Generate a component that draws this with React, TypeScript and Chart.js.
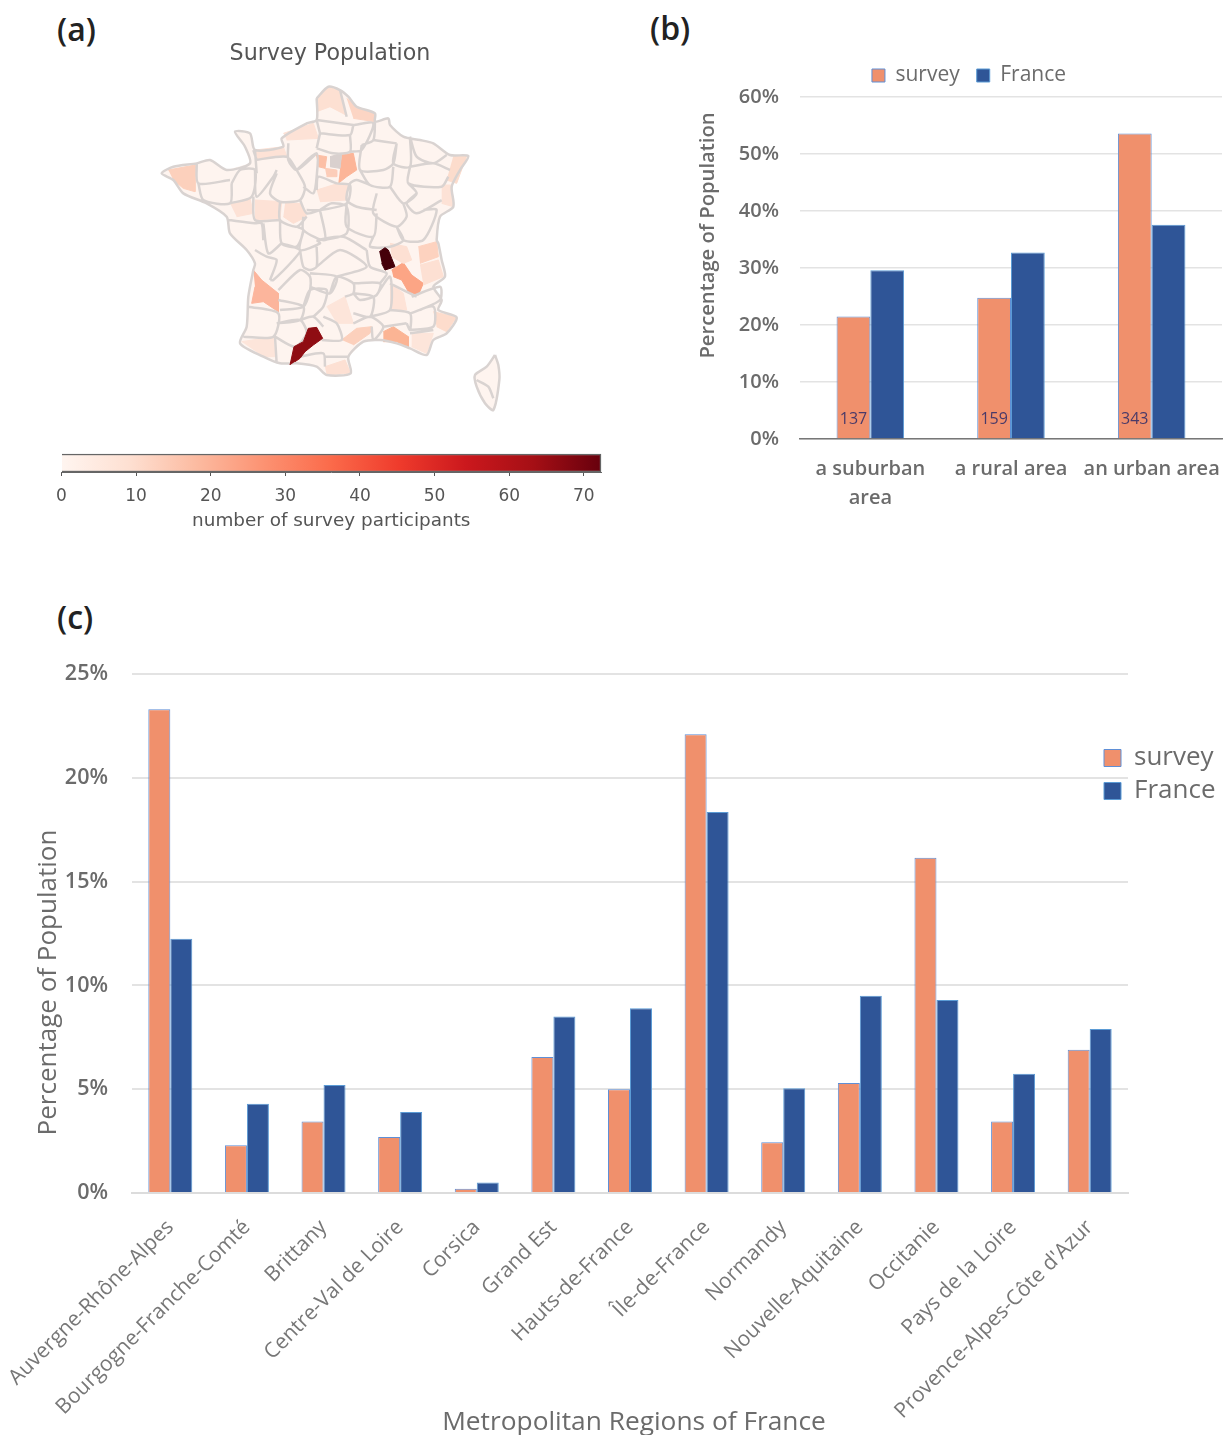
import React, { useEffect, useRef } from "react";
import { Chart, registerables } from "chart.js";

Chart.register(...registerables);

// ---------- panel (b) data ----------
const areaCategories: (string | string[])[] = [["a suburban", "area"], "a rural area", "an urban area"];
const areaSurvey = [21.5, 24.8, 53.6];
const areaFrance = [29.6, 32.7, 37.6];
const areaCounts = ["137", "159", "343"];
const areaTicks = [0, 10, 20, 30, 40, 50, 60];

// ---------- panel (c) data ----------
const regionCategories = [
  "Auvergne-Rhône-Alpes", "Bourgogne-Franche-Comté", "Brittany", "Centre-Val de Loire", "Corsica", "Grand Est",
  "Hauts-de-France", "Île-de-France", "Normandy", "Nouvelle-Aquitaine", "Occitanie", "Pays de la Loire",
  "Provence-Alpes-Côte d'Azur",
];
const regionSurvey = [23.3, 2.3, 3.45, 2.7, 0.2, 6.55, 5.0, 22.1, 2.45, 5.3, 16.15, 3.45, 6.9];
const regionFrance = [12.25, 4.3, 5.2, 3.9, 0.5, 8.5, 8.9, 18.35, 5.05, 9.5, 9.3, 5.75, 7.9];

// ---------- panel (a) colour bar ----------
const colorbarTicks = [0, 10, 20, 30, 40, 50, 60, 70];
const colorbarMax = 72.3;
const redsStops = ["#fff5f0", "#fee0d2", "#fcbba1", "#fc9272", "#fb6a4a", "#ef3b2c", "#cb181d", "#a50f15", "#67000d"];

// ---------- panel (a) map, hand-traced shapes in map units ----------
type Poly = number[][];
const franceOutline: Poly = [[530,85],[565,50],[600,60],[625,80],[650,110],[705,130],[705,155],[745,145],[750,165],[790,200],[840,210],[880,220],[930,255],[985,258],[960,300],[935,350],[940,410],[900,440],[890,510],[895,520],[905,570],[915,620],[880,650],[905,690],[895,720],[950,742],[920,790],[880,810],[860,855],[810,835],[770,820],[720,810],[670,815],[625,860],[632,910],[560,915],[530,890],[470,880],[420,880],[370,860],[300,820],[320,770],[325,680],[340,600],[345,580],[320,540],[270,490],[260,440],[200,400],[130,370],[100,330],[65,310],[100,290],[170,280],[210,270],[260,300],[330,280],[315,230],[285,185],[330,190],[345,240],[430,230],[425,205],[500,160],[530,150],[530,85]];
const corsicaOutline: Poly = [[1065,855],[1075,885],[1078,930],[1060,1020],[1035,1000],[1010,950],[1005,915],[1040,890],[1065,855]];

const departmentBorders: Poly[] = [
  [[600,60],[620,140]],[[530,150],[640,165]],[[540,190],[630,195],[640,165]],[[530,235],[580,250],[630,245],[630,195]],
  [[640,165],[700,160],[665,240],[630,245]],[[540,190],[530,150]],[[530,235],[540,190]],[[705,155],[700,210],[665,225]],
  [[700,210],[770,220]],[[665,225],[660,300],[730,300],[760,280],[770,220]],[[770,220],[760,280],[810,290],[810,200]],
  [[810,290],[880,280],[930,300]],[[810,200],[830,260],[880,280],[920,255]],[[810,290],[805,340],[905,350],[925,320]],
  [[660,300],[690,345],[750,350],[760,290]],[[750,350],[790,400],[830,370],[805,340]],[[710,370],[700,430],[770,470],[800,440],[790,400]],
  [[690,345],[650,330],[630,340],[620,390],[650,410],[710,420]],[[830,370],[800,400],[830,430],[905,390]],
  [[770,470],[790,510],[850,510],[890,420],[850,420]],[[620,400],[620,470],[700,500],[710,430]],
  [[700,500],[690,530],[750,530],[790,510],[770,470]],[[530,510],[610,500],[680,540]],
  [[540,420],[575,400],[620,410],[620,490],[555,510]],[[530,360],[535,320],[590,340],[630,345],[620,400],[540,420],[500,420]],
  [[470,300],[530,250],[530,320],[520,370],[490,350]],[[445,220],[445,270],[470,300],[530,250]],[[345,270],[440,260],[470,300]],
  [[340,240],[350,270]],[[345,240],[350,310]],[[170,280],[175,340],[270,330]],[[175,340],[190,390],[270,400],[275,340]],
  [[275,340],[300,300],[345,300],[335,380],[270,400]],[[345,300],[350,380],[400,320],[410,300]],
  [[410,310],[390,370],[420,395],[480,390],[495,350],[470,300]],[[480,390],[500,430],[540,420]],
  [[420,395],[420,450],[470,470],[500,440]],[[420,450],[425,520],[470,530],[490,480],[470,470]],
  [[490,440],[490,480],[555,510],[540,420]],[[340,380],[345,450],[420,450]],[[265,450],[345,460],[365,460],[370,510]],
  [[370,460],[385,550],[425,520]],[[345,540],[380,560],[410,570],[390,630]],[[425,520],[480,540],[460,570],[400,630],[390,630]],
  [[490,480],[480,540],[540,520],[530,510]],[[480,540],[490,590],[510,600],[530,590],[530,530]],
  [[510,610],[590,620],[570,670],[510,650]],[[415,660],[480,600],[510,620],[510,660],[490,710],[420,720]],
  [[530,590],[600,540],[680,590],[590,620]],[[570,670],[590,620],[640,640],[640,670],[615,680]],
  [[490,710],[510,660],[560,660],[550,710],[520,740]],[[680,540],[690,590],[740,610],[720,640]],
  [[640,640],[720,640],[710,675],[660,690],[640,670]],[[640,670],[700,680],[690,740],[640,730]],
  [[710,675],[750,620],[750,720],[690,740]],[[640,760],[690,740],[730,770],[700,810],[695,770]],[[730,770],[800,760]],
  [[325,710],[415,730],[400,800],[310,800]],[[415,690],[490,710],[480,750],[410,760]],[[410,760],[480,750],[500,790],[465,830],[405,800]],
  [[405,800],[410,880]],[[480,750],[520,740],[550,770]],[[550,740],[590,760],[605,810],[545,810]],[[555,860],[625,860]],
  [[480,860],[550,850],[555,890]],[[815,680],[900,650],[900,690],[840,720]],[[810,730],[880,710],[880,770],[810,780]],
  [[750,720],[810,730],[810,780],[800,760]],[[750,640],[830,680]],[[810,790],[880,780]],[[1010,930],[1045,950],[1060,985]],
];

const departmentPatches: { color: string; shape: Poly }[] = [
  { color: "#fde0d2", shape: [[530,85],[565,50],[600,60],[618,135],[570,110],[530,125]] },
  { color: "#fcd5c4", shape: [[620,85],[650,110],[705,130],[705,155],[640,145]] },
  { color: "#fde2d6", shape: [[430,190],[520,160],[535,205],[440,210]] },
  { color: "#fde2d6", shape: [[345,240],[430,230],[440,258],[350,270]] },
  { color: "#fcbfa5", shape: [[528,255],[560,260],[555,295],[535,290]] },
  { color: "#d9d0ce", shape: [[570,260],[605,250],[600,295],[570,290]] },
  { color: "#fccdb9", shape: [[555,295],[590,300],[590,320],[560,320]] },
  { color: "#fcb598", shape: [[605,255],[640,250],[650,300],[620,320],[595,340]] },
  { color: "#fde2d6", shape: [[530,360],[595,340],[625,345],[620,390],[540,395]] },
  { color: "#fcd0bc", shape: [[85,300],[165,285],[165,365],[130,355],[100,330]] },
  { color: "#fde2d6", shape: [[270,400],[330,385],[340,430],[290,440]] },
  { color: "#fde2d6", shape: [[345,390],[425,395],[420,445],[345,450]] },
  { color: "#fde0d3", shape: [[435,400],[480,400],[500,440],[460,460],[430,440]] },
  { color: "#fcdccc", shape: [[940,258],[980,258],[950,340],[920,330]] },
  { color: "#fde2d6", shape: [[905,345],[935,345],[940,410],[905,400]] },
  { color: "#fde0d3", shape: [[750,520],[800,530],[815,570],[790,580],[755,560]] },
  { color: "#fdd2bf", shape: [[835,530],[890,515],[895,560],[840,580]] },
  { color: "#fde0d3", shape: [[840,585],[895,570],[910,620],[850,645]] },
  { color: "#fca585", shape: [[755,600],[790,578],[815,615],[850,640],[835,675],[805,665],[785,630],[760,620]] },
  { color: "#fee3d7", shape: [[750,640],[790,670],[800,720],[750,720]] },
  { color: "#fcb59c", shape: [[340,600],[365,630],[415,670],[415,725],[370,695],[335,700],[345,650]] },
  { color: "#fde5da", shape: [[560,710],[615,680],[640,760],[590,760]] },
  { color: "#fddccc", shape: [[880,725],[950,742],[920,785],[890,770]] },
  { color: "#fcd0bc", shape: [[605,810],[650,775],[695,770],[690,790],[640,825]] },
  { color: "#fbb494", shape: [[730,785],[760,770],[805,800],[805,830],[770,815],[730,815]] },
  { color: "#fde5da", shape: [[815,790],[880,790],[860,850],[815,830]] },
  { color: "#fde5da", shape: [[305,815],[400,800],[405,860],[370,860]] },
  { color: "#fde0d3", shape: [[555,890],[615,870],[632,910],[560,915]] },
  { color: "#8f0d13", shape: [[450,885],[462,830],[490,815],[505,775],[530,772],[548,805],[520,825],[495,845],[480,865],[465,875]] },
  { color: "#45000a", shape: [[718,545],[735,533],[745,540],[755,565],[765,590],[735,600],[725,580]] },
];

const PANEL_FONT = "'Open Sans', sans-serif";
const MAP_FONT = "'DejaVu Sans', sans-serif";
const SURVEY_FILL = "#f0906c";
const SURVEY_EDGE = "#5f8fd6";
const FRANCE_FILL = "#2f5597";
const FRANCE_EDGE = "#5b9bd5";
const AXIS_TEXT = "#6b6b6b";

const toPts = (p: Poly) => p.map(([x, y]) => ({ x, y }));

function legendMover(id: string, dx: number, dy: number) {
  return {
    id,
    afterLayout(chart: any) {
      const l = chart.legend;
      if (!l) return;
      l.left += dx; l.right += dx; l.top += dy; l.bottom += dy;
    },
  };
}

function titleNudge(id: string, axis: string, dx: number, dy: number) {
  return {
    id,
    beforeDraw(chart: any) {
      const s = chart.scales[axis];
      if (!s || s.__nudged) return;
      s.__nudged = true;
      const orig = s.drawTitle.bind(s);
      s.drawTitle = () => {
        chart.ctx.save();
        chart.ctx.translate(dx, dy);
        orig();
        chart.ctx.restore();
      };
    },
  };
}

const countLabels = {
  id: "countLabels",
  afterDatasetsDraw(chart: any) {
    const meta = chart.getDatasetMeta(0);
    const ctx = chart.ctx;
    ctx.save();
    ctx.font = `500 16px ${PANEL_FONT}`;
    ctx.fillStyle = "#4a3a68";
    ctx.textAlign = "center";
    ctx.textBaseline = "middle";
    meta.data.forEach((bar: any, i: number) => {
      ctx.fillText(areaCounts[i], bar.x, chart.chartArea.bottom - 20);
    });
    ctx.restore();
  },
};

function useChart(make: (c: HTMLCanvasElement) => Chart) {
  const ref = useRef<HTMLCanvasElement>(null);
  useEffect(() => {
    const chart = make(ref.current!);
    return () => chart.destroy();
  }, []);
  return ref;
}

const box = (l: number, t: number, w: number, h: number, extra: React.CSSProperties = {}): React.CSSProperties => ({
  position: "absolute", left: l, top: t, width: w, height: h, ...extra,
});

function PanelLabel({ text, x, y }: { text: string; x: number; y: number }) {
  return (
    <div style={{ position: "absolute", left: x, top: y, font: `600 32px ${PANEL_FONT}`, color: "#222", lineHeight: "34px" }}>
      {text}
    </div>
  );
}

export default function App() {
  const mapRef = useChart((c) => {
    const datasets: any[] = [];
    const borderData: any[] = [];
    [...departmentBorders, franceOutline, corsicaOutline].forEach((p) => {
      borderData.push(...toPts(p), { x: NaN, y: NaN });
    });
    datasets.push({
      label: "borders", data: borderData, showLine: true, borderColor: "#d9d3d1", borderWidth: 2.5, tension: 0.25,
      pointRadius: 0, fill: false, spanGaps: false, order: 0, borderJoinStyle: "round",
    });
    departmentPatches.forEach((d, i) => {
      datasets.push({
        label: "dept" + i, data: toPts(d.shape), showLine: true, borderColor: d.color, borderWidth: 1,
        backgroundColor: d.color, pointRadius: 0, fill: "shape", order: d.color === "#8f0d13" || d.color === "#45000a" ? -1 : 1,
      });
    });
    [franceOutline, corsicaOutline].forEach((p, i) => {
      datasets.push({
        label: "land" + i, data: toPts(p), showLine: true, borderWidth: 0, backgroundColor: "#fef4ef",
        pointRadius: 0, fill: "shape", order: 2,
      });
    });
    return new Chart(c, {
      type: "scatter",
      data: { datasets },
      options: {
        animation: false, responsive: false, maintainAspectRatio: false,
        layout: { padding: 0 },
        plugins: {
          legend: { display: false }, tooltip: { enabled: false },
          title: {
            display: true, text: "Survey Population", color: "#555",
            font: { family: MAP_FONT, size: 22.2, weight: "normal" }, padding: { top: 10.7, bottom: 2.7 },
          },
        },
        scales: {
          x: { type: "linear", min: 0, max: 1140, display: false },
          y: { type: "linear", min: 0, max: 1050, reverse: true, display: false },
        },
      },
    } as any);
  });

  const barRef = useChart((c) => {
    return new Chart(c, {
      type: "bar",
      data: {
        labels: ["colour scale"],
        datasets: [{
          label: "participants", data: [colorbarMax], borderColor: "#666", borderWidth: 1.5,
          categoryPercentage: 1, barPercentage: 1, clip: 4,
          backgroundColor: (ctx: any) => {
            const a = ctx.chart.chartArea;
            if (!a) return redsStops[0];
            const g = ctx.chart.ctx.createLinearGradient(a.left, 0, a.right, 0);
            redsStops.forEach((s, i) => g.addColorStop(i / (redsStops.length - 1), s));
            return g;
          },
        }],
      },
      options: {
        indexAxis: "y", animation: false, responsive: false, maintainAspectRatio: false,
        layout: { padding: { left: 21.5, right: 19, top: 9, bottom: 0 } },
        plugins: { legend: { display: false }, tooltip: { enabled: false } },
        scales: {
          y: { display: false },
          x: {
            type: "linear", min: 0, max: colorbarMax,
            afterBuildTicks: (s: any) => { s.ticks = colorbarTicks.map((value) => ({ value })); },
            afterFit: (s: any) => { s.height = 63; },
            grid: { drawOnChartArea: false, color: "#555", tickLength: 4 },
            border: { color: "#666" },
            ticks: { color: "#555", padding: 10, maxRotation: 0, autoSkip: false, font: { family: MAP_FONT, size: 17 } },
            title: {
              display: true, text: "number of survey participants", color: "#555",
              font: { family: MAP_FONT, size: 18.4 }, padding: { top: 0, bottom: 3 },
            },
          },
        },
      },
    } as any);
  });

  const areaRef = useChart((c) => {
    return new Chart(c, {
      type: "bar",
      data: {
        labels: areaCategories as any,
        datasets: [
          { label: "survey", data: areaSurvey, backgroundColor: SURVEY_FILL, borderColor: SURVEY_EDGE, borderWidth: 1, categoryPercentage: 0.48, barPercentage: 1 },
          { label: "France", data: areaFrance, backgroundColor: FRANCE_FILL, borderColor: FRANCE_EDGE, borderWidth: 1, categoryPercentage: 0.48, barPercentage: 1 },
        ],
      },
      options: {
        animation: false, responsive: false, maintainAspectRatio: false,
        layout: { padding: { top: 9, right: 1, left: 0, bottom: 0 } },
        plugins: {
          tooltip: { enabled: false },
          legend: {
            position: "top",
            labels: { boxWidth: 13, boxHeight: 13, padding: 17, color: AXIS_TEXT, font: { family: PANEL_FONT, size: 21 } },
          },
        },
        scales: {
          y: {
            min: 0, max: 60,
            afterBuildTicks: (s: any) => { s.ticks = areaTicks.map((value) => ({ value })); },
            afterFit: (s: any) => { s.width = 110; },
            grid: { color: "#e3e3e3", lineWidth: 1.5, drawTicks: false },
            border: { display: false },
            ticks: { padding: 21, color: AXIS_TEXT, callback: (v: any) => v + "%", font: { family: PANEL_FONT, size: 20, weight: 600 } },
            title: {
              display: true, text: "Percentage of Population", color: AXIS_TEXT,
              font: { family: PANEL_FONT, size: 20.2, weight: 600 }, padding: { top: 6, bottom: 0 },
            },
          },
          x: {
            afterFit: (s: any) => { s.height = 76; s.paddingLeft = 0; s.paddingRight = 0; },
            grid: { display: false },
            border: { color: "#777", width: 1.5 },
            ticks: { padding: 7.5, color: AXIS_TEXT, maxRotation: 0, autoSkip: false, font: { family: PANEL_FONT, size: 20, weight: 600, lineHeight: 1.45 } },
          },
        },
      },
      plugins: [countLabels, legendMover("moveLegendB", 13, -1), titleNudge("nudgeB", "y", 0, -32.5)],
    } as any);
  });

  const regionRef = useChart((c) => {
    return new Chart(c, {
      type: "bar",
      data: {
        labels: regionCategories,
        datasets: [
          { label: "survey", data: regionSurvey, backgroundColor: SURVEY_FILL, borderColor: SURVEY_EDGE, borderWidth: 1, categoryPercentage: 0.574, barPercentage: 1 },
          { label: "France", data: regionFrance, backgroundColor: FRANCE_FILL, borderColor: FRANCE_EDGE, borderWidth: 1, categoryPercentage: 0.574, barPercentage: 1 },
        ],
      },
      options: {
        animation: false, responsive: false, maintainAspectRatio: false,
        layout: { padding: { top: 34, right: 95, left: 0, bottom: 0 } },
        plugins: {
          tooltip: { enabled: false },
          legend: {
            position: "chartArea", align: "start",
            labels: { boxWidth: 17, boxHeight: 17, padding: 7, color: AXIS_TEXT, font: { family: PANEL_FONT, size: 26 } },
          },
        },
        scales: {
          y: {
            min: 0, max: 25,
            ticks: { stepSize: 5, padding: 24, color: AXIS_TEXT, callback: (v: any) => v + "%", font: { family: PANEL_FONT, size: 21.5, weight: 600 } },
            afterFit: (s: any) => { s.width = 132; s.paddingTop = 0; s.paddingBottom = 0; },
            grid: { color: "#e3e3e3", lineWidth: 2, drawTicks: false },
            border: { display: false },
            title: {
              display: true, text: "Percentage of Population", color: AXIS_TEXT,
              font: { family: PANEL_FONT, size: 26 }, padding: { top: 33, bottom: 0 },
            },
          },
          x: {
            afterFit: (s: any) => { s.height = 242; s.paddingLeft = 0; s.paddingRight = 0; },
            grid: { display: false },
            border: { color: "#dcdcdc", width: 2 },
            ticks: { padding: 14, color: "#777", minRotation: 45, maxRotation: 45, autoSkip: false, font: { family: PANEL_FONT, size: 21 } },
            title: {
              display: true, text: "Metropolitan Regions of France", color: AXIS_TEXT,
              font: { family: PANEL_FONT, size: 26.3 }, padding: { top: 0, bottom: 0 },
            },
          },
        },
      },
      plugins: [legendMover("moveLegendC", 965, 98), titleNudge("nudgeCy", "y", 0, 49), titleNudge("nudgeCx", "x", 4, 3)],
    } as any);
  });

  return (
    <div style={{ position: "absolute", left: 0, top: 0, width: 1223, height: 1435, overflow: "hidden", background: "#fff", filter: "blur(0.45px)" }}>
      <PanelLabel text="(a)" x={57} y={12} />
      <PanelLabel text="(b)" x={650} y={11} />
      <PanelLabel text="(c)" x={57} y={600} />
      <canvas ref={mapRef} width={380} height={390} style={box(140, 30, 380, 390, { filter: "blur(0.6px)" })} />
      <canvas ref={barRef} width={580} height={90} style={box(40, 445, 580, 90)} />
      <canvas ref={areaRef} width={533} height={475} style={box(690, 40, 533, 475)} />
      <canvas ref={regionRef} width={1223} height={795} style={box(0, 640, 1223, 795)} />
    </div>
  );
}
